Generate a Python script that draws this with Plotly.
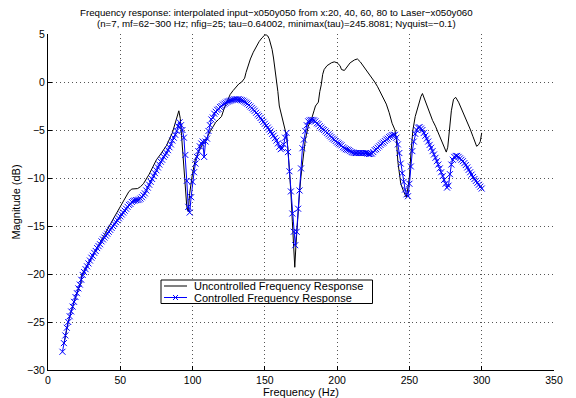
import plotly.graph_objects as go

# Controlled response (blue, markers) – 1 Hz steps, 10..300 Hz
ctrl_f = list(range(10, 301))
ctrl_db = [
    -28.1, -27.2, -26.4, -25.6, -25.0, -24.4, -23.9, -23.4, -22.9, -22.4,   # 10-19
    -22.0, -21.5, -21.1, -20.6, -20.1, -19.8, -19.5, -19.2, -18.9, -18.6,   # 20-29
    -18.3, -18.1, -17.8, -17.6, -17.3, -17.1, -16.9, -16.6, -16.4, -16.2,   # 30-39
    -16.0, -15.8, -15.6, -15.4, -15.2, -15.0, -14.8, -14.6, -14.4, -14.2,   # 40-49
    -14.0, -13.8, -13.6, -13.4, -13.2, -13.0, -12.8, -12.7, -12.5, -12.4,   # 50-59
    -12.35, -12.3, -12.3, -12.25, -12.15, -12.0, -11.8, -11.6, -11.3, -11.0,  # 60-69
    -10.7, -10.4, -10.1, -9.8, -9.5, -9.2, -8.9, -8.6, -8.3, -8.1,          # 70-79
    -7.8, -7.6, -7.4, -7.1, -6.8, -6.5, -6.1, -5.8, -5.5, -5.1,             # 80-89
    -4.6, -4.2, -4.5, -5.0, -5.8, -7.6, -10.3, -13.0, -13.6, -12.0,         # 90-99
    -10.4, -9.4, -8.5, -7.8, -7.2, -6.7, -6.4, -6.2, -7.8, -6.2,            # 100-109
    -5.9, -5.1, -4.5, -3.9, -3.7, -3.3, -3.1, -2.9, -2.8, -2.6,             # 110-119
    -2.5, -2.35, -2.25, -2.15, -2.05, -2.0, -1.95, -1.9, -1.85, -1.8,       # 120-129
    -1.8, -1.8, -1.8, -1.85, -1.9, -1.95, -2.05, -2.15, -2.25, -2.4,        # 130-139
    -2.55, -2.7, -2.85, -3.0, -3.2, -3.4, -3.55, -3.75, -3.95, -4.15,       # 140-149
    -4.35, -4.55, -4.75, -4.95, -5.15, -5.4, -5.6, -5.85, -6.1, -6.4,       # 150-159
    -6.75, -7.0, -6.9, -6.5, -5.8, -5.3, -7.3, -9.3, -11.4, -13.7,          # 160-169
    -15.6, -17.0, -15.6, -13.2, -11.3, -9.0, -6.9, -6.0, -5.1, -4.5,        # 170-179
    -4.1, -4.0, -3.95, -3.95, -4.0, -4.1, -4.3, -4.4, -4.6, -4.75,          # 180-189
    -4.9, -5.0, -5.15, -5.3, -5.45, -5.6, -5.75, -5.9, -6.0, -6.15,         # 190-199
    -6.3, -6.4, -6.5, -6.6, -6.8, -6.9, -7.0, -7.05, -7.1, -7.2,            # 200-209
    -7.3, -7.35, -7.4, -7.4, -7.4, -7.4, -7.4, -7.4, -7.4, -7.4,            # 210-219
    -7.4, -7.45, -7.5, -7.5, -7.45, -7.3, -7.1, -7.0, -6.85, -6.7,          # 220-229
    -6.55, -6.4, -6.3, -6.15, -6.0, -5.9, -5.75, -5.65, -5.55, -5.5,        # 230-239
    -5.5, -5.8, -6.5, -7.4, -8.5, -9.5, -10.4, -11.2, -11.7, -11.9,         # 240-249
    -10.6, -8.8, -7.2, -6.2, -5.4, -5.0, -4.75, -4.7, -4.85, -5.0,          # 250-259
    -5.3, -5.6, -5.9, -6.2, -6.55, -6.85, -7.2, -7.55, -7.9, -8.25,         # 260-269
    -8.6, -9.0, -9.4, -9.8, -10.2, -10.6, -11.0, -10.8, -9.6, -8.6,         # 270-279
    -8.1, -7.8, -7.7, -7.7, -7.8, -7.95, -8.1, -8.25, -8.45, -8.65,         # 280-289
    -8.9, -9.15, -9.4, -9.65, -9.9, -10.1, -10.3, -10.5, -10.7, -10.9,      # 290-299
    -11.1,                                                                  # 300
]

# Uncontrolled response (black line)
unc_f = [11, 12, 14, 16, 18, 20, 22, 22.8, 23.3, 26, 30, 34, 37, 41, 45, 50, 53, 56, 58, 62,
         64, 66, 70, 75, 78, 82, 86, 88.5, 90.5, 91.5, 93, 94.5, 96, 97, 98, 100, 102, 105,
         108, 110, 112, 114, 116, 118, 120, 122, 124, 126, 128, 130, 132, 134, 136, 137, 138,
         140, 142, 144, 146, 148, 150, 151, 152, 153, 154, 155, 156, 157, 158, 159, 160, 161,
         162, 163, 164, 165, 166, 167, 168, 169, 170, 170.7, 171.5, 172.5, 174, 175, 176.5,
         178, 180, 182, 184, 185, 186, 187, 188, 189, 190, 191, 193, 196, 198, 200, 202, 203,
         205, 207, 209, 212, 214, 216, 218, 220, 222, 224, 226, 228, 230, 232, 234, 236, 238,
         240, 241, 242, 243, 244, 246, 247.8, 249, 250, 251, 252.4, 254, 256, 258, 259, 260,
         262, 264, 266, 268, 270, 272, 274, 275.5, 276.5, 277.5, 279, 280.5, 282, 284, 286,
         288, 290, 292, 294, 296.5, 298, 299, 300]
unc_db = [-27.3, -26.4, -25.0, -23.9, -22.9, -22.0, -21.2, -21.0, -20.1, -19.4, -18.3, -17.2,
          -16.5, -15.4, -14.3, -13.0, -12.2, -11.4, -11.15, -11.1, -10.9, -10.6, -9.6, -8.1,
          -7.5, -6.6, -5.3, -4.0, -3.0, -3.8, -6.4, -9.9, -13.0, -13.5, -11.6, -9.5, -8.0,
          -7.0, -6.2, -5.8, -5.2, -4.7, -4.2, -3.9, -3.6, -2.7, -2.0, -1.3, -0.9, -0.5, -0.2,
          0.0, 0.4, 1.0, 1.5, 2.4, 3.1, 3.7, 4.2, 4.6, 4.9, 4.9, 4.8, 4.5, 4.0, 3.4, 2.5, 1.5,
          0.4, -1.0, -2.5, -3.1, -3.6, -4.2, -4.8, -5.6, -7.0, -9.0, -11.5, -14.5, -17.5,
          -19.3, -17.0, -14.5, -11.5, -9.8, -8.0, -6.0, -4.6, -4.0, -3.0, -2.5, -2.3, -2.1,
          -1.0, -0.3, 0.8, 1.3, 1.7, 2.0, 2.1, 2.0, 1.7, 1.3, 1.2, 1.6, 2.0, 2.3, 2.4, 2.1,
          1.7, 1.3, 0.8, 0.4, 0.0, -0.5, -1.1, -1.8, -2.3, -3.2, -4.3, -5.0, -6.0, -8.3, -9.6,
          -10.6, -11.4, -12.0, -11.0, -9.9, -7.5, -5.0, -3.6, -2.5, -1.5, -1.2, -1.6, -2.5,
          -3.2, -4.0, -4.6, -5.3, -6.0, -6.6, -7.3, -6.8, -5.2, -3.0, -1.8, -1.6, -2.1, -2.8,
          -3.4, -4.2, -4.9, -5.7, -6.7, -6.5, -6.2, -5.3]

x_ticks = [0, 50, 100, 150, 200, 250, 300, 350]
y_ticks = [-30, -25, -20, -15, -10, -5, 0, 5]

series_names = ["Uncontrolled Frequency Response", "Controlled Frequency Response"]
title_lines = [
    "Frequency response: interpolated input\u2212x050y050 from x:20, 40, 60, 80 to Laser\u2212x050y060",
    "(n=7, mf=62\u2212300 Hz; nfig=25; tau=0.64002, minimax(tau)=245.8081; Nyquist=\u22120.1)",
]

FONT = "Liberation Sans, Arial, Helvetica, sans-serif"
BLUE = "#0000ff"

W, H = 576, 398
ML, MR, MT, MB = 48, 22, 34, 28
PW, PH = W - ML - MR, H - MT - MB


def px(xp):  # pixel x -> paper x
    return (xp - ML) / PW


def py(yp):  # pixel y -> paper y
    return (H - MB - yp) / PH


fig = go.Figure()
fig.add_trace(go.Scatter(
    x=unc_f, y=unc_db, mode="lines", name=series_names[0],
    line=dict(color="black", width=1), showlegend=False,
))
fig.add_trace(go.Scatter(
    x=ctrl_f, y=ctrl_db, mode="lines+markers", name=series_names[1],
    line=dict(color=BLUE, width=1),
    marker=dict(symbol="x-thin", size=6, color=BLUE, line=dict(color=BLUE, width=1)),
    showlegend=False,
))

annotations = []
# title lines
for txt, yc in zip(title_lines, [12.5, 23.5]):
    annotations.append(dict(text=txt, xref="paper", yref="paper", x=px(276), y=py(yc),
                            xanchor="center", yanchor="middle", showarrow=False,
                            font=dict(family=FONT, size=9.7, color="black")))

# MATLAB-style legend box (decoration)
shapes = [dict(type="rect", xref="paper", yref="paper",
               x0=px(161), x1=px(372.5), y0=py(303.5), y1=py(280),
               line=dict(color="black", width=1), fillcolor="white", layer="above")]
leg_rows = [286, 297.5]
leg_cols = ["black", BLUE]
for name, yc, col in zip(series_names, leg_rows, leg_cols):
    shapes.append(dict(type="line", xref="paper", yref="paper",
                       x0=px(164), x1=px(187), y0=py(yc), y1=py(yc),
                       line=dict(color=col, width=1), layer="above"))
    annotations.append(dict(text=name, xref="paper", yref="paper", x=px(192), y=py(yc),
                            xanchor="left", yanchor="middle", showarrow=False,
                            font=dict(family=FONT, size=11, color="black")))
# x marker in legend sample for controlled series
mx, my, r = 175.5, leg_rows[1], 2.5
for (a, b, c, d) in [(mx - r, my - r, mx + r, my + r), (mx - r, my + r, mx + r, my - r)]:
    shapes.append(dict(type="line", xref="paper", yref="paper",
                       x0=px(a), y0=py(b), x1=px(c), y1=py(d),
                       line=dict(color=BLUE, width=1), layer="above"))

fig.update_layout(
    width=W, height=H,
    margin=dict(l=ML, r=MR, t=MT, b=MB, autoexpand=False),
    paper_bgcolor="white", plot_bgcolor="white",
    font=dict(family=FONT, size=10, color="black"),
    showlegend=False,
    annotations=annotations,
    shapes=shapes,
)
GRID = dict(showgrid=True, gridcolor="#555", griddash="1px,3px", gridwidth=1, zeroline=False)
fig.update_xaxes(
    range=[0, 350], tickvals=x_ticks, ticks="inside", ticklen=4, tickcolor="black",
    showline=True, linecolor="black", linewidth=1, mirror=False, **GRID,
    tickfont=dict(family=FONT, size=10.5, color="black"), automargin=False,
    title=dict(text="Frequency (Hz)", font=dict(family=FONT, size=11, color="black"), standoff=0),
)
fig.update_yaxes(
    range=[-30, 5], tickvals=y_ticks, ticks="inside", ticklen=4, tickcolor="black",
    showline=True, linecolor="black", linewidth=1, mirror=False, **GRID,
    tickfont=dict(family=FONT, size=10.5, color="black"), automargin=False,
    title=dict(text="Magnitude (dB)", font=dict(family=FONT, size=11, color="black"), standoff=4),
)

fig.write_html("out.html")
